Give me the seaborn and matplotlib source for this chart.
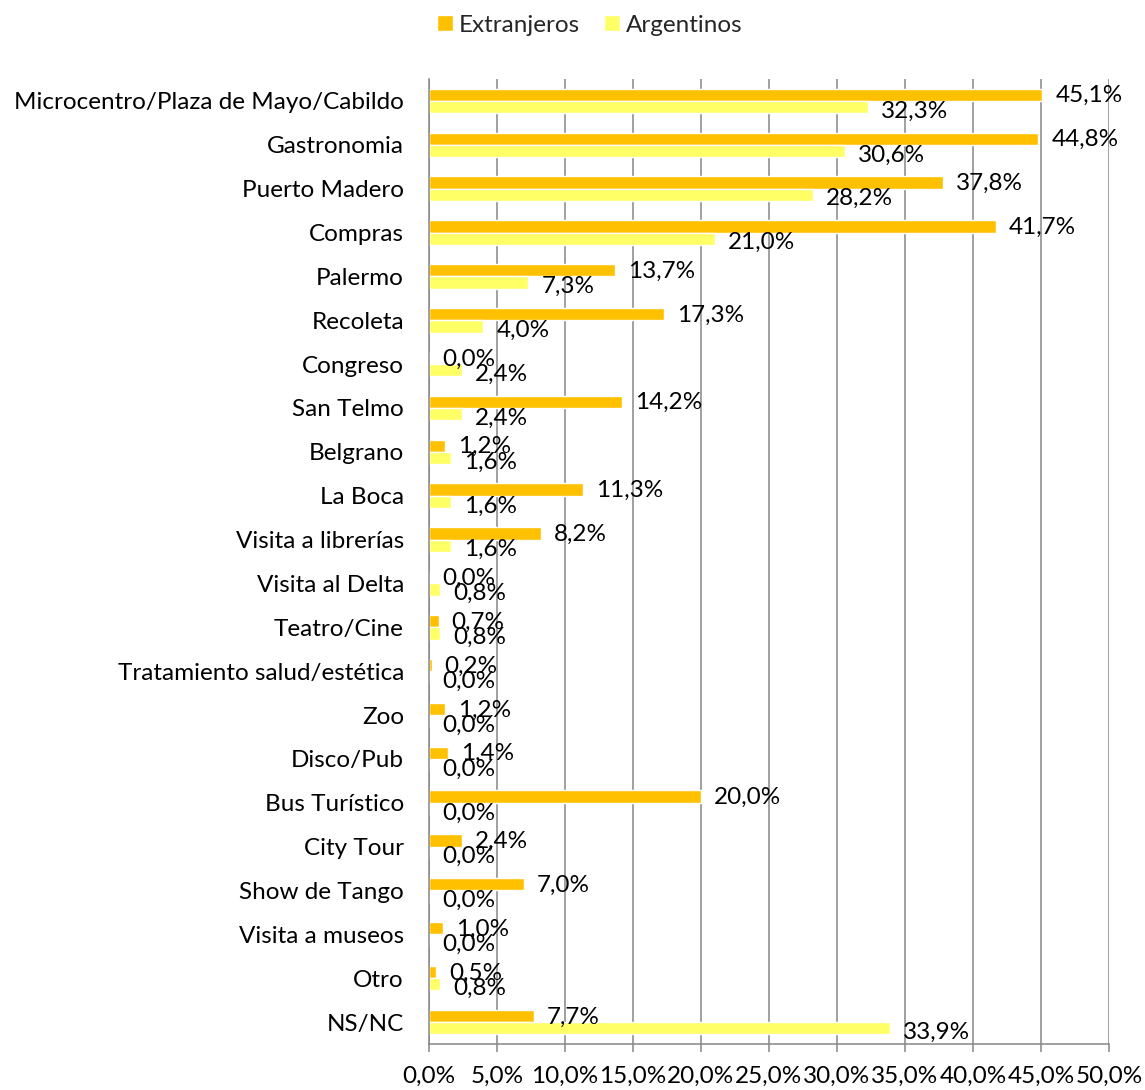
import pandas as pd
import matplotlib.pyplot as plt
import matplotlib.ticker as mticker
import seaborn as sns

categories = [
    "Microcentro/Plaza de Mayo/Cabildo", "Gastronomia", "Puerto Madero", "Compras",
    "Palermo", "Recoleta", "Congreso", "San Telmo", "Belgrano", "La Boca",
    "Visita a librerías", "Visita al Delta", "Teatro/Cine",
    "Tratamiento salud/estética", "Zoo", "Disco/Pub", "Bus Turístico",
    "City Tour", "Show de Tango", "Visita a museos", "Otro", "NS/NC",
]
extranjeros = [45.1, 44.8, 37.8, 41.7, 13.7, 17.3, 0.0, 14.2, 1.2, 11.3, 8.2, 0.0,
               0.7, 0.2, 1.2, 1.4, 20.0, 2.4, 7.0, 1.0, 0.5, 7.7]
argentinos = [32.3, 30.6, 28.2, 21.0, 7.3, 4.0, 2.4, 2.4, 1.6, 1.6, 1.6, 0.8,
              0.8, 0.0, 0.0, 0.0, 0.0, 0.0, 0.0, 0.0, 0.8, 33.9]
series = ["Extranjeros", "Argentinos"]
colors = ["#FFC000", "#FFFF66"]

df = pd.DataFrame({
    "categoria": categories * 2,
    "valor": extranjeros + argentinos,
    "grupo": [series[0]] * len(categories) + [series[1]] * len(categories),
})

sns.set_theme(style="white")
plt.rcParams["font.family"] = ["Lato", "DejaVu Sans"]
FS = 17.5

fig = plt.figure(figsize=(11.45, 10.9), dpi=100)
ax = fig.add_axes([429 / 1145, 1 - 1044 / 1090, 680 / 1145, 965 / 1090])

sns.barplot(data=df, y="categoria", x="valor", hue="grupo", orient="h",
            palette=colors, width=0.56, saturation=1, dodge=True, ax=ax,
            legend=True)

ax.set_xlim(0, 50)
ax.set_ylim(len(categories) - 0.5, -0.5)
ax.xaxis.set_major_locator(mticker.MultipleLocator(5))
ax.xaxis.set_major_formatter(mticker.FuncFormatter(lambda x, _: f"{x:.1f}%".replace(".", ",")))
ax.grid(axis="x", color="#868686", linewidth=1.1)
ax.set_axisbelow(True)
ax.set_xlabel("")
ax.set_ylabel("")
for s in ["top", "right"]:
    ax.spines[s].set_visible(False)
for s in ["left", "bottom"]:
    ax.spines[s].set_color("#868686")
    ax.spines[s].set_linewidth(1.1)
ax.tick_params(axis="x", bottom=True, length=6, width=1.1, color="#868686",
               labelsize=FS, pad=10, labelcolor="black")
ax.tick_params(axis="y", left=False, labelsize=FS, pad=12, labelcolor="black")

for cont, vals, dy in zip(ax.containers, [extranjeros, argentinos], [-1, -4]):
    for bar, v in zip(cont, vals):
        ax.annotate(f"{v:.1f}%".replace(".", ","),
                    (bar.get_width(), bar.get_y() + bar.get_height() / 2),
                    xytext=(13, dy), textcoords="offset pixels",
                    va="center", ha="left", fontsize=FS, color="black")

handles, labels = ax.get_legend_handles_labels()
ax.legend_.remove()
fig.legend(handles, labels, loc="center", bbox_to_anchor=(590 / 1145, 1 - 25 / 1090),
           ncol=2, frameon=False, fontsize=FS, handlelength=0.65, handleheight=0.65,
           handletextpad=0.25, columnspacing=1.0)

fig.savefig("out.png", dpi=100, facecolor="white")
